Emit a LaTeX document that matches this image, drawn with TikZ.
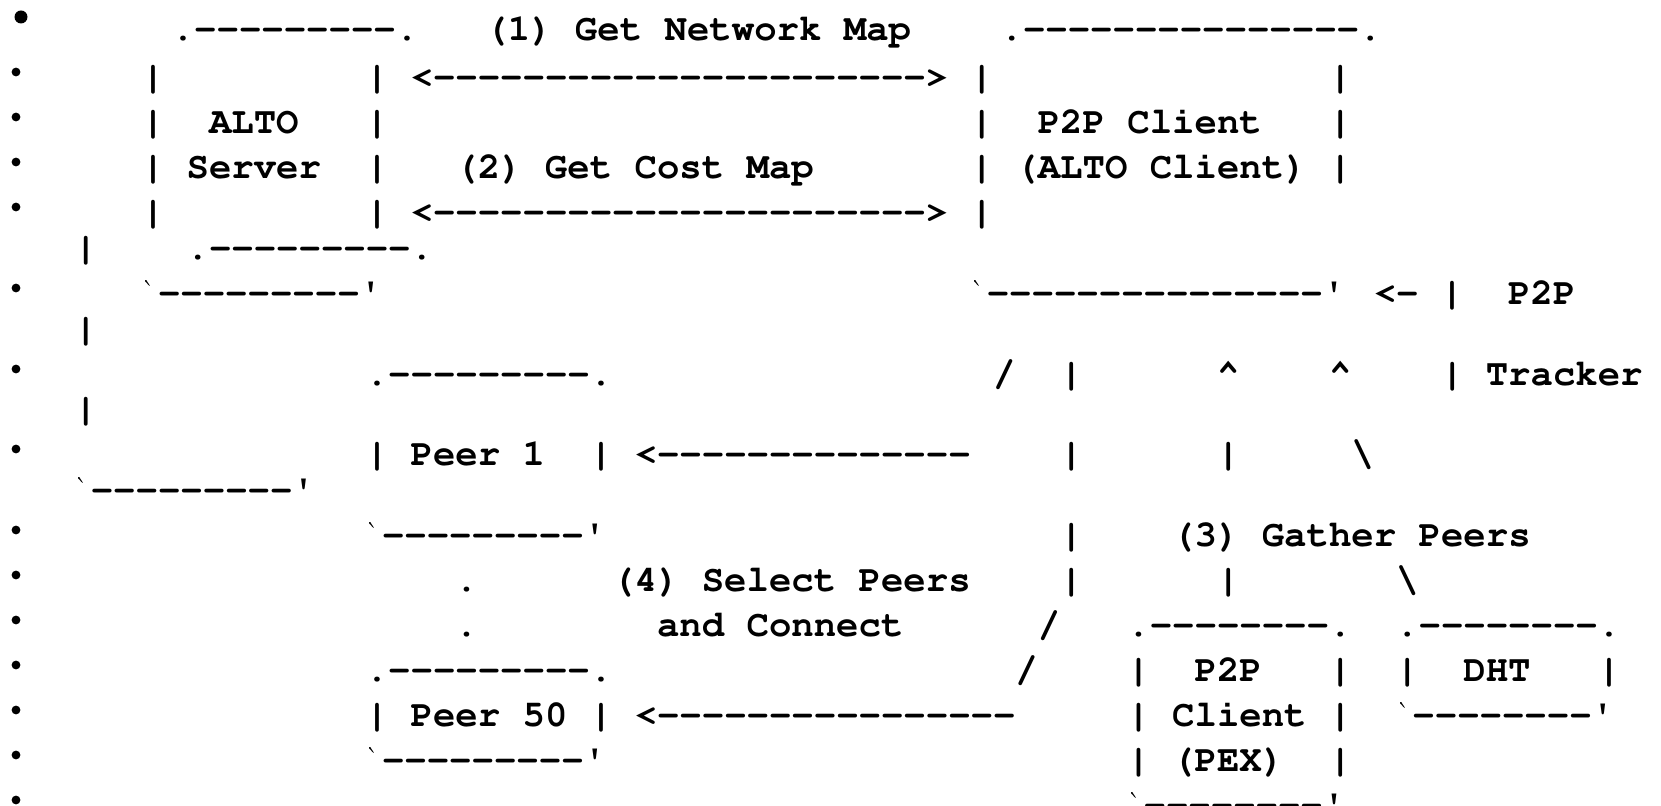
\documentclass[tikz,border=0pt]{standalone}
\usepackage[T1]{fontenc}
\usepackage{textcomp}

\newcommand\crfont{\fontfamily{pcr}\fontseries{b}\fontsize{18.67}{20}\selectfont\frenchspacing}
\newcommand\dsh[1]{\foreach\k in {1,...,#1}{-}}
\newcommand\grv{\textasciigrave}
\newcommand\qts{\textquotesingle}
\newcommand\cl[1]{7.4+22.4*#1}

\tikzset{
  asc/.style={anchor=base west, inner sep=0pt, outer sep=0pt, font=\crfont},
  dot/.style={circle, fill=black, inner sep=0pt, minimum size=4.4pt}
}

\begin{document}
\begin{tikzpicture}[x=0.5pt, y=-0.5pt]
  \useasboundingbox (0,0) rectangle (1661,806);

  % bullets
  \node[dot, minimum size=6.5pt] (b0) at (21,17) {};
  \foreach \y [count=\n] in {72,117,162,207,288,369,449,530,575,620,665,710,755,800}
    \node[dot] (b\n) at (16,\y) {};

  % ALTO server and the two map requests
  \node[asc] (srvtop)  at ({\cl{6}+30},41)  {.\dsh{9}.};
  \node[asc] (stepone) at ({\cl{20}+30},41) {(1) Get Network Map};
  \node[asc] (clitop)  at ({\cl{43}+30},41) {.\dsh{15}.};

  \node[asc] (srvl2)   at ({\cl{6}},89)  {|};
  \node[asc] (arrone)  at ({\cl{16}},89) {| <\dsh{22}>};
  \node[asc] (clil2)   at ({\cl{43}},89) {|};
  \node[asc] (clir2)   at ({\cl{59}},89) {|};

  \node[asc] (srvl3)   at ({\cl{6}},134)  {|};
  \node[asc] (alto)    at ({\cl{9}},134)  {ALTO};
  \node[asc] (srvr3)   at ({\cl{16}},134) {|};
  \node[asc] (clil3)   at ({\cl{43}},134) {|};
  \node[asc] (p2pcli)  at ({\cl{46}},134) {P2P Client};
  \node[asc] (clir3)   at ({\cl{59}},134) {|};

  \node[asc] (srvl4)   at ({\cl{6}},179)  {|};
  \node[asc] (server)  at ({\cl{8}},179)  {Server};
  \node[asc] (srvr4)   at ({\cl{16}},179) {|};
  \node[asc] (steptwo) at ({\cl{20}},179) {(2) Get Cost Map};
  \node[asc] (clil4)   at ({\cl{43}},179) {|};
  \node[asc] (altocli) at ({\cl{45}},179) {(ALTO Client)};
  \node[asc] (clir4)   at ({\cl{59}},179) {|};

  \node[asc] (srvl5)   at ({\cl{6}},224)  {|};
  \node[asc] (arrtwo)  at ({\cl{16}},224) {| <\dsh{22}>};
  \node[asc] (clil5)   at ({\cl{43}},224) {|};
  \node[asc] (clir5)   at ({\cl{3}},260)  {|};
  \node[asc] (trktop)  at ({\cl{8}},260)  {.\dsh{9}.};

  \node[asc] (srvbot)  at ({\cl{6}},305)  {\grv\dsh{9}\qts};
  \node[asc] (clibot)  at ({\cl{43}},305) {\grv\dsh{15}\qts};
  \node[asc] (trkarr)  at ({\cl{61}},305) {<- |};
  \node[asc] (trkone)  at ({\cl{67}},305) {P2P};
  \node[asc] (trkr6)   at ({\cl{3}},341)  {|};

  % peers and tracker
  \node[asc] (ponetop) at ({\cl{16}},386) {.\dsh{9}.};
  \node[asc] (slasha)  at ({\cl{44}},386) {/};
  \node[asc] (bara)    at ({\cl{47}},386) {|};
  \node[asc] (hata)    at ({\cl{54}},386) {\textasciicircum};
  \node[asc] (hatb)    at ({\cl{59}},386) {\textasciicircum};
  \node[asc] (trkl7)   at ({\cl{64}},386) {|};
  \node[asc] (trktwo)  at ({\cl{66}},386) {Tracker};
  \node[asc] (trkr7)   at ({\cl{3}},421)  {|};

  \node[asc] (peerone) at ({\cl{16}},466) {| Peer 1~~| <\dsh{14}};
  \node[asc] (barb)    at ({\cl{47}},466) {|};
  \node[asc] (barc)    at ({\cl{54}},466) {|};
  \node[asc] (bsla)    at ({\cl{60}},466) {\textbackslash};
  \node[asc] (trkbot)  at ({\cl{3}},502)  {\grv\dsh{9}\qts};

  \node[asc] (ponebot) at ({\cl{16}},547) {\grv\dsh{9}\qts};
  \node[asc] (bard)    at ({\cl{47}},547) {|};
  \node[asc] (stepthr) at ({\cl{52}},547) {(3) Gather Peers};

  \node[asc] (dota)    at ({\cl{20}},592) {.};
  \node[asc] (stepfou) at ({\cl{27}},592) {(4) Select Peers};
  \node[asc] (bare)    at ({\cl{47}},592) {|};
  \node[asc] (barf)    at ({\cl{54}},592) {|};
  \node[asc] (bslb)    at ({\cl{62}},592) {\textbackslash};

  \node[asc] (dotb)    at ({\cl{20}},637) {.};
  \node[asc] (connect) at ({\cl{29}},637) {and Connect};
  \node[asc] (slashb)  at ({\cl{46}},637) {/};
  \node[asc] (pextop)  at ({\cl{50}},637) {.\dsh{8}.};
  \node[asc] (dhttop)  at ({\cl{62}},637) {.\dsh{8}.};

  \node[asc] (pfiftop) at ({\cl{16}},682) {.\dsh{9}.};
  \node[asc] (slashc)  at ({\cl{45}},682) {/};
  \node[asc] (pexl12)  at ({\cl{50}},682) {|};
  \node[asc] (pexname) at ({\cl{53}},682) {P2P};
  \node[asc] (pexr12)  at ({\cl{59}},682) {|};
  \node[asc] (dhtl)    at ({\cl{62}},682) {|};
  \node[asc] (dht)     at ({\cl{65}},682) {DHT};
  \node[asc] (dhtr)    at ({\cl{71}},682) {|};

  \node[asc] (pfifty)  at ({\cl{16}},727) {| Peer 50 | <\dsh{16}};
  \node[asc] (pexcli)  at ({\cl{50}},727) {| Client |};
  \node[asc] (dhtbot)  at ({\cl{62}},727) {\grv\dsh{8}\qts};

  \node[asc] (pfifbot) at ({\cl{16}},772) {\grv\dsh{9}\qts};
  \node[asc] (pexl14)  at ({\cl{50}},772) {| (PEX)};
  \node[asc] (pexr14)  at ({\cl{59}},772) {|};

  \node[asc] (pexbot)  at ({\cl{50}},817) {\grv\dsh{8}\qts};

\end{tikzpicture}
\end{document}
